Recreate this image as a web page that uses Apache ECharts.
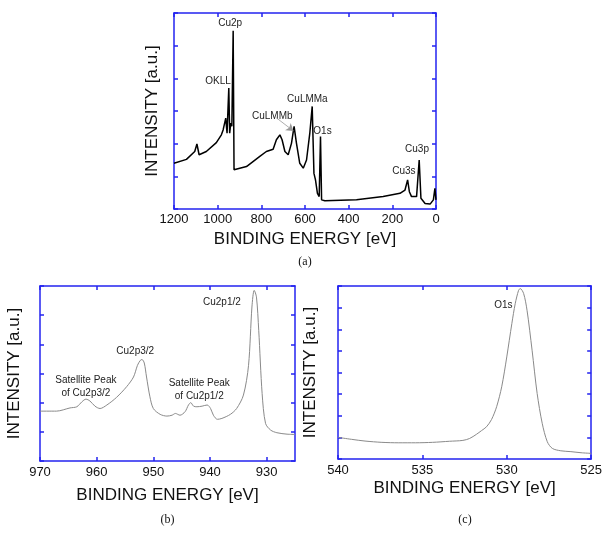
<!DOCTYPE html>
<html>
<head>
<meta charset="utf-8">
<title>XPS spectra</title>
<script src="https://cdn.jsdelivr.net/npm/echarts@6.0.0/dist/echarts.min.js"></script>
<style>
  html, body { margin: 0; padding: 0; background: #fff; }
  #chart { width: 605px; height: 534px; }
</style>
</head>
<body>
<div id="chart"></div>
<script>
// (a) survey spectrum
var energyA = [1200, 1143, 1105, 1095, 1085, 1052, 1006, 983, 975, 968, 963, 957, 949, 945, 940, 935, 929, 925, 919, 868,
    807, 777, 746, 731, 715, 705, 692, 677, 662, 650, 639, 624, 608, 593, 578, 567, 559, 552, 543, 535,
    529, 524, 509, 364, 242, 165, 142, 130, 122, 112, 89, 77, 69, 50, 27, 12, 5, 0];
var intensityA = [1.40, 1.52, 1.76, 1.99, 1.66, 1.76, 2.03, 2.27, 2.42, 2.37, 2.78, 2.32, 3.70, 2.32, 2.63, 2.53, 5.46, 1.20, 1.15, 1.30,
    1.61, 1.76, 1.83, 2.12, 2.27, 2.12, 1.76, 1.66, 2.01, 2.53, 2.01, 1.40, 1.25, 1.50, 2.32, 3.14, 1.09, 0.89, 0.48, 0.38,
    2.22, 0.28, 0.25, 0.28, 0.38, 0.48, 0.58, 0.89, 0.53, 0.38, 0.38, 1.50, 0.33, 0.17, 0.15, 0.28, 0.63, 0.28];
var ticksA = [0, 200, 400, 600, 800, 1000, 1200];

// (b) Cu2p region
var energyB = [970, 967.1, 964.7, 963.5, 962.6, 961.9, 961.2, 960.3, 959.4, 958.2, 956.5, 954.7, 953.5, 952.8, 952.3, 952.0, 951.6, 951.2, 950.6, 950.0,
    948.8, 947.6, 946.7, 946.1, 945.3, 944.4, 943.8, 943.4, 942.9, 942.3, 941.4, 940.5, 939.9, 939.4, 938.7, 937.9, 936.4, 935.3, 934.1, 933.2,
    932.6, 932.2, 931.8, 931.4, 930.8, 930.2, 929.3, 928.2, 926.4, 925];
var intensityB = [1.71, 1.71, 1.82, 1.86, 2.03, 2.12, 2.06, 1.88, 1.80, 1.92, 2.18, 2.55, 2.88, 3.28, 3.45, 3.48, 3.36, 2.88, 2.20, 1.80,
    1.60, 1.54, 1.57, 1.63, 1.57, 1.69, 1.92, 2.00, 1.88, 1.86, 1.88, 1.92, 1.80, 1.57, 1.43, 1.46, 1.60, 1.80, 2.26, 3.28,
    5.28, 5.85, 5.62, 4.48, 2.31, 1.29, 1.06, 0.97, 0.92, 0.91];
var ticksB = [930, 940, 950, 960, 970];

// (c) O1s region
var energyC = [540, 539.2, 538.4, 537.4, 536.4, 535.4, 534.4, 533.4, 532.6, 532.2, 531.8, 531.5, 531.2, 530.9, 530.6, 530.3,
    530.0, 529.7, 529.5, 529.3, 529.2, 529.0, 528.8, 528.5, 528.2, 527.9, 527.6, 527.3, 526.8, 526.2, 525.6, 525];
var intensityC = [1.00, 0.91, 0.83, 0.77, 0.75, 0.75, 0.77, 0.82, 0.86, 0.95, 1.14, 1.31, 1.49, 1.83, 2.42, 3.34,
    4.72, 6.26, 7.18, 7.80, 7.88, 7.65, 6.88, 5.03, 3.03, 1.65, 0.80, 0.49, 0.38, 0.34, 0.29, 0.26];
var ticksC = [525, 530, 535, 540];

// peak labels [panel, energy, intensity, text]
var peakLabels = [
    [0, 943, 5.7, 'Cu2p'],
    [0, 998, 3.9, 'OKLL'],
    [0, 750, 2.85, 'CuLMMb'],
    [0, 589, 3.37, 'CuLMMa'],
    [0, 520, 2.39, 'O1s'],
    [0, 147, 1.17, 'Cu3s'],
    [0, 87, 1.84, 'Cu3p'],
    [1, 961.9, 2.55, 'Satellite Peak\nof Cu2p3/2'],
    [1, 953.2, 3.77, 'Cu2p3/2'],
    [1, 941.9, 2.45, 'Satellite Peak\nof Cu2p1/2'],
    [1, 937.9, 5.45, 'Cu2p1/2'],
    [2, 530.2, 7.13, 'O1s']
];

var BLUE = '#2323f0';
var FONT = 'Liberation Sans';

function zip(xs, ys) {
    var out = [];
    for (var i = 0; i < xs.length; i++) out.push([xs[i], ys[i]]);
    return out;
}

function xAxisOf(grid, pos, min, max, ticks, name, gap, margin) {
    var bottom = pos == 'bottom';
    return {
        type: 'value', gridIndex: grid, position: pos, inverse: true,
        min: min, max: max,
        name: bottom ? name : '', nameLocation: 'middle', nameGap: gap,
        nameTextStyle: { fontFamily: FONT, fontSize: 17, color: '#111' },
        axisLine: { show: true, onZero: false, lineStyle: { color: BLUE, width: 1.5 } },
        axisTick: { show: true, inside: true, length: 4, customValues: ticks, lineStyle: { color: BLUE, width: 1.5 } },
        axisLabel: {
            show: bottom, margin: margin, customValues: ticks,
            formatter: function (v) { return String(v); },
            fontFamily: FONT, fontSize: 13, color: '#111'
        },
        splitLine: { show: false }
    };
}

function yAxisOf(grid, pos, max, gap) {
    var left = pos == 'left';
    return {
        type: 'value', gridIndex: grid, position: pos,
        min: 0, max: max, interval: 1,
        name: left ? 'INTENSITY [a.u.]' : '', nameLocation: 'middle', nameGap: gap,
        nameTextStyle: { fontFamily: FONT, fontSize: 17, color: '#111' },
        axisLine: { show: true, onZero: false, lineStyle: { color: BLUE, width: 1.5 } },
        axisTick: { show: true, inside: true, length: 4, lineStyle: { color: BLUE, width: 1.5 } },
        axisLabel: { show: false },
        splitLine: { show: false }
    };
}

var chart = echarts.init(document.getElementById('chart'), null, { renderer: 'canvas' });

var option = {
    backgroundColor: '#fff',
    animation: false,
    grid: [
        { left: 174, top: 13, width: 262, height: 196 },
        { left: 40, top: 286, width: 255, height: 175 },
        { left: 338, top: 286, width: 254, height: 173 }
    ],
    xAxis: [
        xAxisOf(0, 'bottom', 0, 1200, ticksA, 'BINDING ENERGY [eV]', 22, 4),
        xAxisOf(0, 'top', 0, 1200, ticksA, '', 0, 4),
        xAxisOf(1, 'bottom', 925, 970, ticksB, 'BINDING ENERGY [eV]', 26, 5),
        xAxisOf(1, 'top', 925, 970, ticksB, '', 0, 4),
        xAxisOf(2, 'bottom', 525, 540, ticksC, 'BINDING ENERGY [eV]', 21, 5),
        xAxisOf(2, 'top', 525, 540, ticksC, '', 0, 4)
    ],
    yAxis: [
        yAxisOf(0, 'left', 6, 13),
        yAxisOf(0, 'right', 6, 0),
        yAxisOf(1, 'left', 6, 17),
        yAxisOf(1, 'right', 6, 0),
        yAxisOf(2, 'left', 8, 19),
        yAxisOf(2, 'right', 8, 0)
    ],
    series: [
        {
            type: 'line', xAxisIndex: 0, yAxisIndex: 0,
            data: zip(energyA, intensityA),
            showSymbol: false, symbol: 'none',
            lineStyle: { color: '#000', width: 1.5 },
            markLine: {
                silent: true, symbol: ['none', 'arrow'], symbolSize: 7,
                label: { show: false },
                lineStyle: { color: '#999', width: 0.8, type: 'solid' },
                data: [[{ coord: [731, 2.79] }, { coord: [653, 2.39] }]]
            }
        },
        {
            type: 'line', xAxisIndex: 2, yAxisIndex: 2,
            data: zip(energyB, intensityB),
            showSymbol: false, symbol: 'none', smooth: 0.3,
            lineStyle: { color: '#8a8a8a', width: 1 }
        },
        {
            type: 'line', xAxisIndex: 4, yAxisIndex: 4,
            data: zip(energyC, intensityC),
            showSymbol: false, symbol: 'none', smooth: 0.3,
            lineStyle: { color: '#8a8a8a', width: 1 }
        }
    ]
};

chart.setOption(option);

// text labels placed through the axes
var graphics = [];
function each(arr, fn) { for (var i = 0; i < arr.length; i++) fn(arr[i]); }
each(peakLabels, function (p) {
    var pt = chart.convertToPixel({ xAxisIndex: p[0] * 2, yAxisIndex: p[0] * 2 }, [p[1], p[2]]);
    graphics.push({
        type: 'text', x: pt[0], y: pt[1],
        style: {
            text: p[3], fontFamily: FONT, fontSize: 10, fill: '#222',
            align: 'center', verticalAlign: 'middle', lineHeight: 13
        }
    });
});
var panelTags = [['(a)', 0], ['(b)', 1], ['(c)', 2]];
var tagY = [262, 520, 520];
each(panelTags, function (t) {
    var g = option.grid[t[1]];
    graphics.push({
        type: 'text', x: g.left + g.width / 2, y: tagY[t[1]],
        style: { text: t[0], fontFamily: 'Liberation Serif', fontSize: 12, fill: '#111', align: 'center', verticalAlign: 'middle' }
    });
});
chart.setOption({ graphic: graphics });
</script>
</body>
</html>
